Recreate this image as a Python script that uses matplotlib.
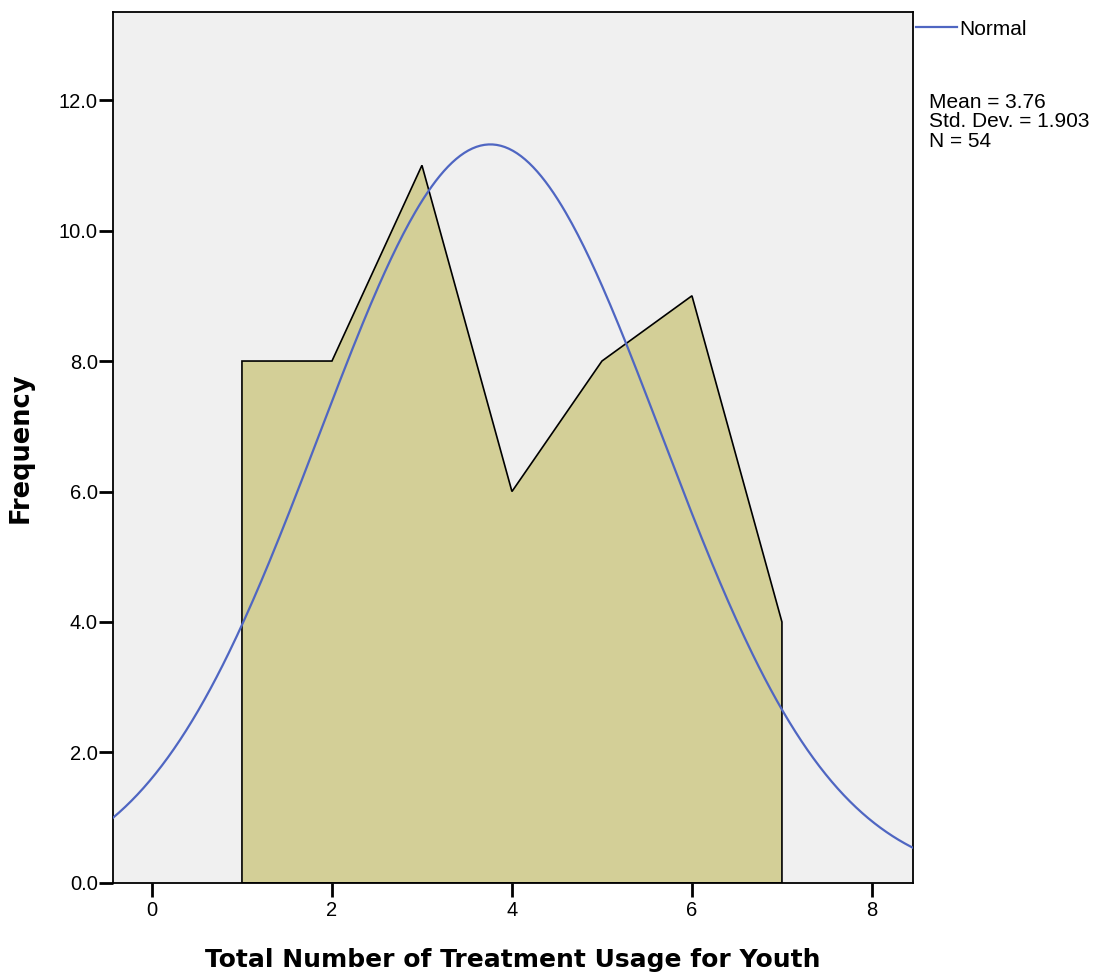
import matplotlib
matplotlib.use("Agg")
import matplotlib.pyplot as plt
import numpy as np

# treatment usage counts per value
usage = [1, 2, 3, 4, 5, 6, 7]
freq = [8, 8, 11, 6, 8, 9, 4]
mean_val = 3.76
std_dev = 1.903
n_total = 54

x_ticks = [0, 2, 4, 6, 8]
y_ticks = [0.0, 2.0, 4.0, 6.0, 8.0, 10.0, 12.0]

plt.rcParams["font.family"] = ["Liberation Sans", "DejaVu Sans"]

fig = plt.figure(figsize=(10.98, 9.75), dpi=100)
ax = fig.add_axes([0.1029, 0.0944, 0.7286, 0.8933])
ax.set_facecolor("#f0f0f0")

# area polygon with vertical drops at both ends
px = [usage[0]] + usage + [usage[-1]]
py = [0] + freq + [0]
ax.fill(px, py, facecolor="#d3cf97", edgecolor="black", linewidth=1.2, zorder=2)

# normal curve scaled to counts (bin width 1)
xs = np.linspace(-0.5, 8.5, 400)
ys = n_total / (std_dev * np.sqrt(2 * np.pi)) * np.exp(-0.5 * ((xs - mean_val) / std_dev) ** 2)
line, = ax.plot(xs, ys, color="#4f66c2", linewidth=1.6, zorder=3)

ax.set_xlim(-0.433, 8.456)
ax.set_ylim(0, 13.35)
ax.set_xticks(x_ticks)
ax.set_yticks(y_ticks)
ax.set_yticklabels([f"{v:.1f}" for v in y_ticks])
ax.tick_params(direction="out", length=10, width=2, labelsize=14.5, colors="black")
ax.tick_params(axis="x", pad=3)
ax.tick_params(axis="y", pad=1)
for s in ax.spines.values():
    s.set_linewidth(1.3)

ax.set_xlabel("Total Number of Treatment Usage for Youth", fontsize=18,
              fontweight="bold", family=["DejaVu Sans"], labelpad=20)
ax.set_ylabel("Frequency", fontsize=18.5, fontweight="bold",
              family=["DejaVu Sans"], labelpad=18)

fig.legend([line], ["Normal"], loc="center left", bbox_to_anchor=(0.834, 0.970),
           frameon=False, fontsize=15, handlelength=2.0, handletextpad=0.1,
           borderaxespad=0, borderpad=0)
fig.text(0.846, 0.905, f"Mean = {mean_val}\nStd. Dev. = {std_dev}\nN = {n_total}",
         fontsize=15, va="top", ha="left", linespacing=1.05)

fig.savefig("out.png", dpi=100)
